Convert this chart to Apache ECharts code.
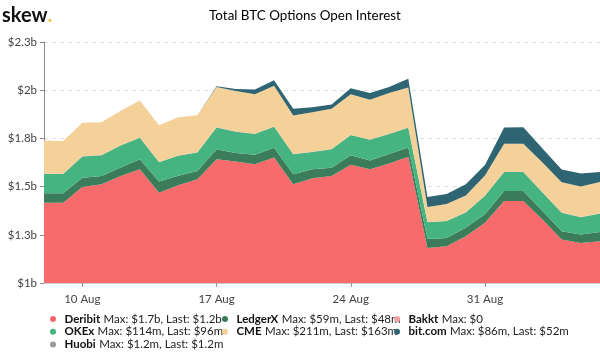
<!DOCTYPE html>
<html>
<head>
<meta charset="utf-8">
<script src="https://cdn.jsdelivr.net/npm/echarts@6/dist/echarts.min.js"></script>
<style>
  html, body { margin: 0; padding: 0; background: #fff; }
  #chart { width: 600px; height: 352px; }
</style>
</head>
<body>
<div id="chart"></div>
<script>
// daily open interest, 8 Aug - 6 Sep, in $m
const dates = ["8 Aug", "9 Aug", "10 Aug", "11 Aug", "12 Aug", "13 Aug", "14 Aug", "15 Aug", "16 Aug", "17 Aug",
  "18 Aug", "19 Aug", "20 Aug", "21 Aug", "22 Aug", "23 Aug", "24 Aug", "25 Aug", "26 Aug", "27 Aug",
  "28 Aug", "29 Aug", "30 Aug", "31 Aug", "1 Sep", "2 Sep", "3 Sep", "4 Sep", "5 Sep", "6 Sep"];
const deribit = [1416, 1416, 1498, 1512, 1555, 1590, 1468, 1507, 1538, 1642,
  1630, 1616, 1651, 1512, 1543, 1555, 1613, 1590, 1620, 1655,
  1181, 1190, 1242, 1312, 1425, 1425, 1329, 1225, 1207, 1216];
const ledgerx = [50, 50, 48, 43, 44, 52, 59, 49, 43, 52,
  44, 49, 50, 52, 47, 43, 50, 45, 49, 48,
  47, 44, 44, 44, 52, 52, 44, 44, 44, 48];
const okex = [100, 100, 110, 108, 114, 112, 99, 104, 96, 112,
  110, 108, 110, 104, 90, 96, 104, 108, 104, 102,
  87, 87, 80, 96, 99, 99, 96, 96, 90, 96];
const huobi = [1.2, 1.2, 1.2, 1.2, 1.2, 1.2, 1.2, 1.2, 1.2, 1.2,
  1.2, 1.2, 1.2, 1.2, 1.2, 1.2, 1.2, 1.2, 1.2, 1.2,
  1.2, 1.2, 1.2, 1.2, 1.2, 1.2, 1.2, 1.2, 1.2, 1.2];
const cme = [172, 169, 174, 169, 179, 191, 191, 198, 192, 209,
  211, 205, 211, 200, 205, 208, 211, 206, 211, 208,
  78, 87, 87, 104, 145, 145, 155, 157, 158, 163];
const bakkt = [0, 0, 0, 0, 0, 0, 0, 0, 0, 0,
  0, 0, 0, 0, 0, 0, 0, 0, 0, 0,
  0, 0, 0, 0, 0, 0, 0, 0, 0, 0];
const bitcom = [0, 0, 0, 0, 0, 0, 0, 0, 0, 4,
  10, 25, 28, 35, 26, 22, 31, 35, 32, 45,
  52, 52, 58, 55, 84, 86, 72, 66, 68, 52];

const xTicks = ["10 Aug", "17 Aug", "24 Aug", "31 Aug"];
const yTicks = ["$1b", "$1.3b", "$1.5b", "$1.8b", "$2b", "$2.3b"];

const legendText = {
  "Deribit": "Max: $1.7b, Last: $1.2b",
  "OKEx": "Max: $114m, Last: $96m",
  "Huobi": "Max: $1.2m, Last: $1.2m",
  "LedgerX": "Max: $59m, Last: $48m",
  "CME": "Max: $211m, Last: $163m",
  "Bakkt": "Max: $0",
  "bit.com": "Max: $86m, Last: $52m"
};

const font = "Lato, 'Open Sans', sans-serif";

function area(name, data, color) {
  return {
    name: name,
    type: "line",
    stack: "oi",
    data: data,
    symbol: "none",
    showSymbol: false,
    color: color,
    lineStyle: { width: 0 },
    areaStyle: { color: color, opacity: 1 },
    emphasis: { disabled: true }
  };
}

function legend(names, left) {
  return {
    data: names,
    orient: "vertical",
    left: left,
    top: 313,
    height: 40,
    padding: 0,
    icon: "circle",
    itemWidth: 13,
    itemHeight: 6,
    itemGap: 0.7,
    selectedMode: false,
    formatter: function (name) {
      return "{b|" + name + "} {n|" + legendText[name] + "}";
    },
    textStyle: {
      rich: {
        b: { fontFamily: font, fontSize: 11.5, fontWeight: "bold", color: "#111", lineHeight: 12 },
        n: { fontFamily: font, fontSize: 11.5, color: "#222", lineHeight: 12 }
      }
    }
  };
}

const chart = echarts.init(document.getElementById("chart"), null, { renderer: "canvas" });

chart.setOption({
  animation: false,
  backgroundColor: "#fff",
  graphic: [
    {
      type: "text",
      x: 305,
      y: 16,
      style: {
        text: "Total BTC Options Open Interest",
        font: "13.4px Lato, sans-serif",
        fill: "#000",
        textAlign: "center",
        textVerticalAlign: "middle"
      }
    },
    {
      type: "text",
      x: 2,
      y: 16,
      style: {
        text: "{a|skew}{d|.}",
        textVerticalAlign: "middle",
        rich: {
          a: { fontFamily: font, fontSize: 20, fontWeight: "bold", fill: "#111" },
          d: { fontFamily: font, fontSize: 20, fontWeight: "bold", fill: "#f2c14e" }
        }
      }
    }
  ],
  grid: { left: 44, right: 0, top: 42, bottom: 69 },
  legend: [
    legend(["Deribit", "OKEx", "Huobi"], 50),
    legend(["LedgerX", "CME"], 222),
    legend(["Bakkt", "bit.com"], 394)
  ],
  xAxis: {
    type: "category",
    boundaryGap: false,
    data: dates,
    axisLine: { lineStyle: { color: "#ccc" } },
    axisTick: {
      length: 4,
      lineStyle: { color: "#999" },
      interval: function (i, v) { return xTicks.indexOf(v) >= 0; }
    },
    axisLabel: {
      margin: 10,
      fontFamily: font,
      fontSize: 11.5,
      color: "#444",
      interval: function (i, v) { return xTicks.indexOf(v) >= 0; }
    },
    splitLine: { show: false }
  },
  yAxis: {
    type: "value",
    min: 1000,
    max: 2250,
    interval: 250,
    axisLine: { show: true, lineStyle: { color: "#888" } },
    axisTick: { show: true, length: 4, lineStyle: { color: "#888" } },
    axisLabel: {
      margin: 7,
      fontFamily: font,
      fontSize: 11.5,
      color: "#444",
      formatter: function (v) { return yTicks[Math.round((v - 1000) / 250)]; }
    },
    splitLine: { lineStyle: { color: "#ddd", type: [4, 4] } }
  },
  series: [
    area("Deribit", deribit, "#f76b6c"),
    area("LedgerX", ledgerx, "#3b7d5b"),
    area("OKEx", okex, "#46b480"),
    area("Huobi", huobi, "#9a9a9a"),
    area("CME", cme, "#f3d199"),
    area("Bakkt", bakkt, "#f3a3a5"),
    area("bit.com", bitcom, "#2f6573")
  ]
});
</script>
</body>
</html>
